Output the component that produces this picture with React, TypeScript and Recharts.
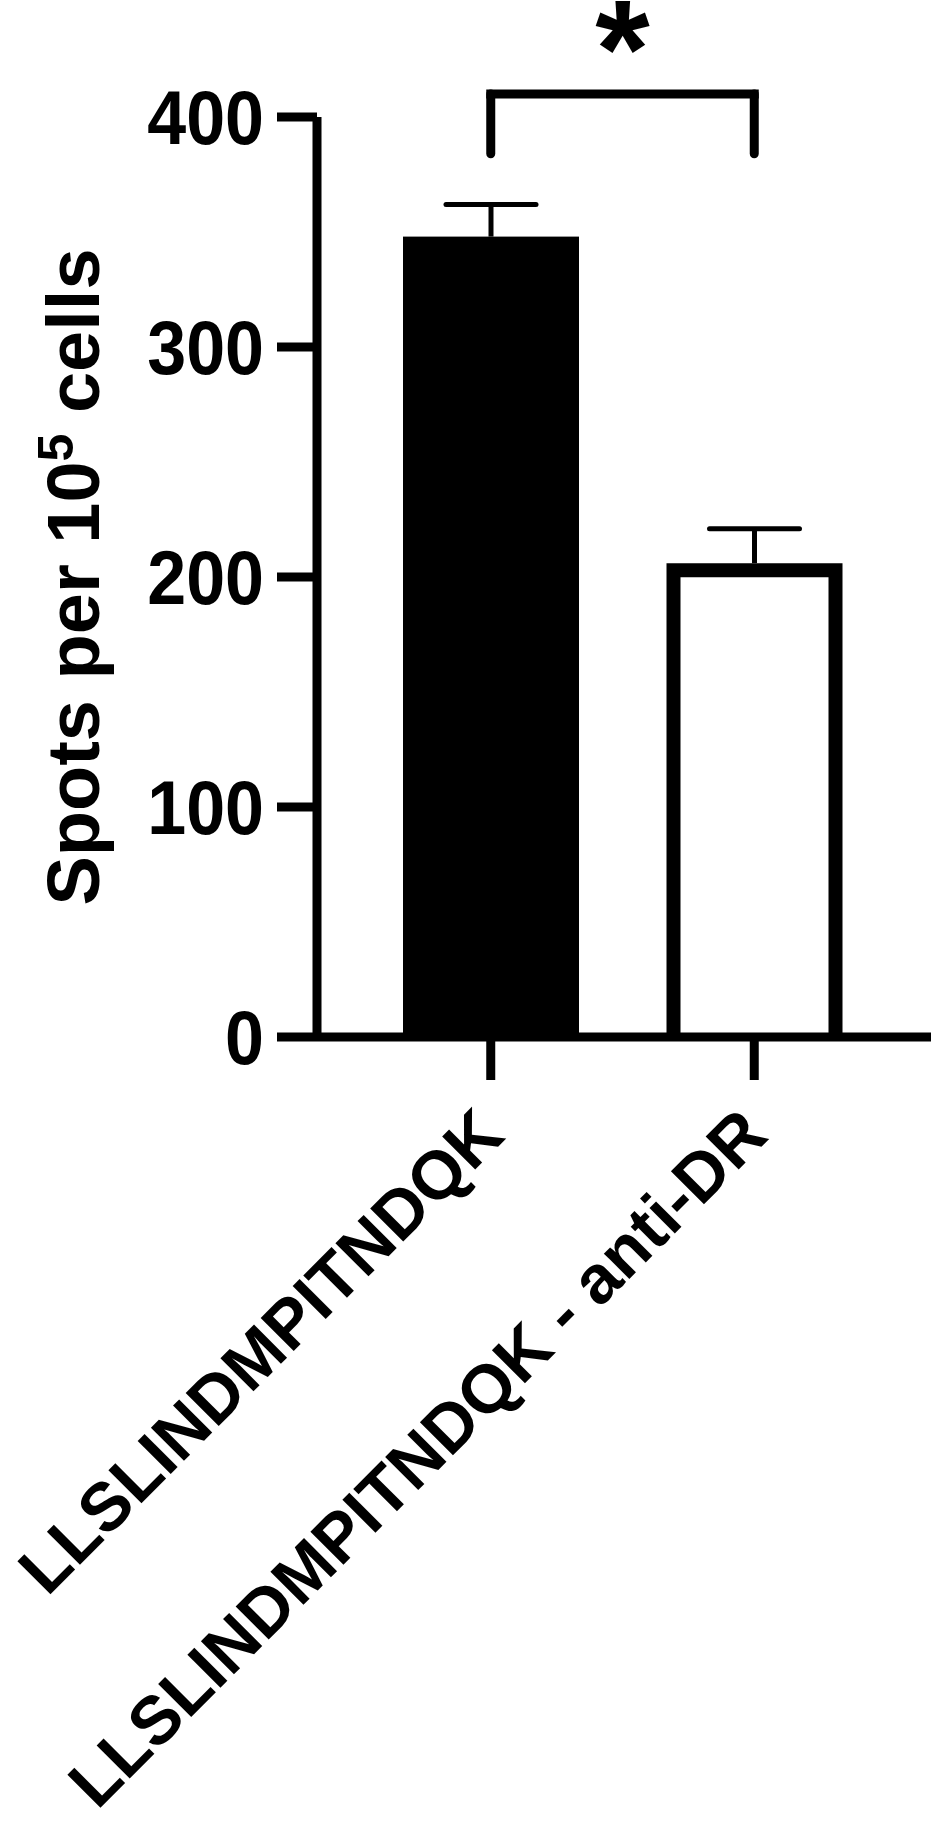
import React from "react"
import { Bar, BarChart, ReferenceLine, XAxis, YAxis } from "recharts"

const categories = ["LLSLINDMPITNDQK", "LLSLINDMPITNDQK - anti-DR"]
const spotValues = [348, 206]
const spotErrors = [14, 15]
const barFills = ["#000000", "#ffffff"]
const yTicks = [0, 100, 200, 300, 400]
const bracketTop = 410
const bracketFoot = 384
const significance = "*"

const FONT = '"Liberation Sans", Arial, Helvetica, sans-serif'
const LINE = 9

const data = categories.map((name, i) => ({
  name,
  spots: spotValues[i],
  sem: spotErrors[i],
  fill: barFills[i],
}))

// white bars get a thick black border drawn inside the bar's box (open at the axis)
function BarShape(props: any) {
  const { x, y, width, height, payload } = props
  if (payload.fill === "#000000") {
    return <rect x={x} y={y} width={width} height={height} fill="#000" />
  }
  const h = 7
  const d = `M${x + h},${y + height} L${x + h},${y + h} L${x + width - h},${y + h} L${x + width - h},${y + height}`
  return <path d={d} fill={payload.fill} stroke="#000" strokeWidth={h * 2} strokeLinejoin="miter" />
}

// upper error whisker only: stacked on top of the mean, spans mean..mean+sem
function Whisker(props: any) {
  const { x, y, width, height } = props
  const cx = x + width / 2
  return (
    <g stroke="#000" strokeWidth={5}>
      <line x1={cx} y1={y} x2={cx} y2={y + height} />
      <line x1={cx - 45} y1={y} x2={cx + 45} y2={y} strokeLinecap="round" />
    </g>
  )
}

function YTick(props: any) {
  const { x, y, payload } = props
  return (
    <text
      x={x}
      y={y}
      dy="0.355em"
      textAnchor="end"
      transform={`translate(0,${y}) scale(1,1.08) translate(0,${-y})`}
      fontFamily={FONT}
      fontWeight={700}
      fontSize={70}
      fill="#000"
    >
      {payload.value}
    </text>
  )
}

function XTick(props: any) {
  const { x, y, payload } = props
  return (
    <g transform={`translate(${x + 16},${y + 58})`}>
      <text
        textAnchor="end"
        transform="rotate(-45)"
        fontFamily={FONT}
        fontWeight={700}
        fontSize={68}
        fill="#000"
      >
        {payload.value}
      </text>
    </g>
  )
}

function YLabel(props: any) {
  const vb = props.viewBox
  const cx = vb.x + 99
  const cy = vb.y + vb.height / 2
  return (
    <text
      x={cx}
      y={cy}
      transform={`rotate(-90, ${cx}, ${cy})`}
      textAnchor="middle"
      fontFamily={FONT}
      fontWeight={700}
      fontSize={74}
      fill="#000"
    >
      Spots per 10
      <tspan dy={-26} fontSize={50}>5</tspan>
      <tspan dy={26}> cells</tspan>
    </text>
  )
}

function StarLabel(props: any) {
  const vb = props.viewBox || {}
  const cx = vb.x + (vb.width || 0) / 2
  return (
    <text x={cx} y={vb.y + 3} textAnchor="middle" fontFamily={FONT} fontWeight={700} fontSize={140} fill="#000">
      {significance}
    </text>
  )
}

export default function App() {
  return (
    <div style={{ position: "absolute", left: 0, top: 0, background: "#fff" }}>
      <BarChart width={933} height={1831} data={data} margin={{ top: 117, right: 2, bottom: 0, left: 0 }}>
        <XAxis
          dataKey="name"
          height={794}
          padding={{ left: 42, right: 45 }}
          axisLine={{ stroke: "#000", strokeWidth: LINE }}
          tickLine={{ stroke: "#000", strokeWidth: LINE }}
          tickSize={43}
          tickMargin={0}
          interval={0}
          tick={<XTick />}
        />
        <YAxis
          width={317}
          domain={[0, 400]}
          ticks={yTicks}
          allowDataOverflow
          axisLine={{ stroke: "#000", strokeWidth: LINE }}
          tickLine={{ stroke: "#000", strokeWidth: LINE }}
          tickSize={40}
          tickMargin={13}
          tick={<YTick />}
          label={YLabel}
        />
        <Bar dataKey="spots" stackId="s" barSize={176} shape={<BarShape />} isAnimationActive={false} />
        <Bar dataKey="sem" stackId="s" barSize={176} shape={<Whisker />} isAnimationActive={false} />
        <ReferenceLine
          ifOverflow="visible"
          segment={[{ x: categories[0], y: bracketTop }, { x: categories[1], y: bracketTop }]}
          stroke="#000"
          strokeWidth={LINE}
          strokeLinecap="square"
          label={StarLabel}
        />
        <ReferenceLine
          ifOverflow="visible"
          segment={[{ x: categories[0], y: bracketFoot }, { x: categories[0], y: bracketTop }]}
          stroke="#000"
          strokeWidth={LINE}
          strokeLinecap="round"
        />
        <ReferenceLine
          ifOverflow="visible"
          segment={[{ x: categories[1], y: bracketFoot }, { x: categories[1], y: bracketTop }]}
          stroke="#000"
          strokeWidth={LINE}
          strokeLinecap="round"
        />
      </BarChart>
    </div>
  )
}
